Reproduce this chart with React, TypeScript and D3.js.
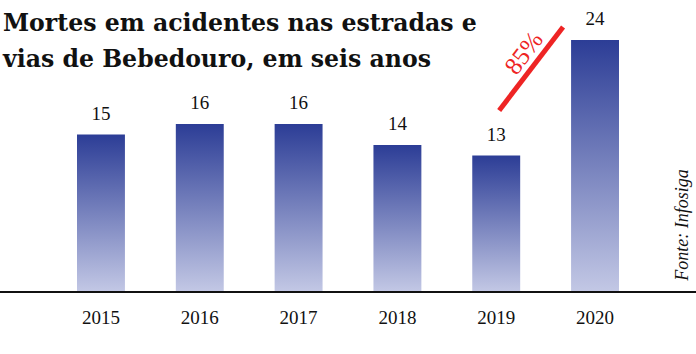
import * as d3 from 'd3'

const years = ['2015', '2016', '2017', '2018', '2019', '2020']
const deaths = [15, 16, 16, 14, 13, 24]
const titleLines = ['Mortes em acidentes nas estradas e', 'vias de Bebedouro, em seis anos']
const changeLabel = '85%'
const source = 'Fonte: Infosiga'

const W = 696
const H = 354
const baseY = 292

export default function App() {
  const x = d3.scaleBand<string>().domain(years).range([77, 619]).paddingInner(0.515).paddingOuter(0)
  const y = d3.scaleLinear().domain([0, 24]).range([baseY, 40])

  const serif = 'Liberation Serif, Times New Roman, serif'
  const titleFont = 'DejaVu Serif, serif'
  const x19 = (x('2019') ?? 0) + x.bandwidth()
  const x20 = x('2020') ?? 0

  return (
    <svg width={W} height={H} style={{ position: 'fixed', left: 0, top: 0, background: '#fff' }}>
      <defs>
        <linearGradient id="barGrad" x1="0" y1="0" x2="0" y2="1">
          <stop offset="0%" stopColor="#2c3d96" />
          <stop offset="100%" stopColor="#c3c8e5" />
        </linearGradient>
      </defs>

      {years.map((yr, i) => (
        <g key={yr}>
          <rect
            x={x(yr)}
            y={y(deaths[i])}
            width={x.bandwidth()}
            height={baseY - y(deaths[i])}
            fill="url(#barGrad)"
          />
          <text
            x={(x(yr) ?? 0) + x.bandwidth() / 2}
            y={y(deaths[i]) - 15}
            textAnchor="middle"
            fontFamily={serif}
            fontSize={19}
            fill="#111"
          >
            {deaths[i]}
          </text>
          <text
            x={(x(yr) ?? 0) + x.bandwidth() / 2}
            y={324}
            textAnchor="middle"
            fontFamily={serif}
            fontSize={19}
            fill="#111"
          >
            {yr}
          </text>
        </g>
      ))}

      <line x1={0} x2={W} y1={baseY} y2={baseY} stroke="#111" strokeWidth={2} />

      {titleLines.map((t, i) => (
        <text
          key={t}
          x={3}
          y={31 + i * 36}
          fontFamily={titleFont}
          fontWeight="bold"
          fontSize={23.6}
          fill="#111"
        >
          {t}
        </text>
      ))}

      {/* growth marker between 2019 and 2020 */}
      <line
        x1={x19 - 21}
        y1={y(13) - 45}
        x2={x20 - 8}
        y2={y(24) - 13}
        stroke="#ee2424"
        strokeWidth={5}
      />
      <text
        transform={`translate(${x19 + 10},${y(20) - 24}) rotate(-53)`}
        textAnchor="middle"
        fontFamily={serif}
        fontSize={25}
        fill="#ee2424"
      >
        {changeLabel}
      </text>

      <text
        transform={`translate(${688},${225}) rotate(-90)`}
        textAnchor="middle"
        fontFamily={serif}
        fontStyle="italic"
        fontSize={18}
        fill="#111"
      >
        {source}
      </text>
    </svg>
  )
}
